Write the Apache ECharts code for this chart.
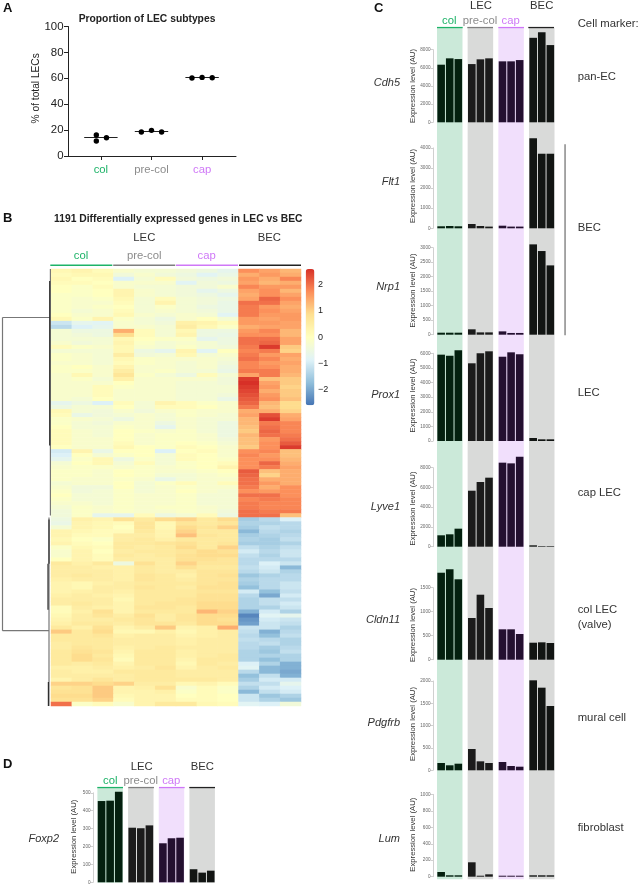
<!DOCTYPE html>
<html>
<head>
<meta charset="utf-8">
<title>LEC subtypes</title>
<script src="https://cdn.jsdelivr.net/npm/echarts@6/dist/echarts.min.js"></script>
<style>
    body { margin: 0; background: #fff; }
    #chart { width: 641px; height: 886px; }
</style>
</head>
<body>
<div id="chart"></div>
<script>
// panel A
const subtypes = ['col', 'pre-col', 'cap'];
const subtypeDots = [
    [[0.91, 16.2], [0.91, 11.6], [1.11, 14.1]],
    [[1.8, 18.5], [2, 19.8], [2.2, 18.5]],
    [[2.8, 60.2], [3, 60.7], [3.2, 60.4]],
];
const subtypeMedians = [14.3, 18.9, 60.6];

// panel C + D, 3 replicates each for col, pre-col, cap, BEC
const groups = ['col', 'pre-col', 'cap', 'BEC'];
const cdh5 = [6340, 7040, 6960, 6410, 6930, 7040, 6710, 6710, 6850, 9300, 9900, 8500];
const flt1 = [100, 115, 100, 215, 115, 85, 130, 85, 85, 4480, 3710, 3710];
const nrp1 = [69, 69, 69, 186, 80, 80, 115, 60, 60, 3115, 2885, 2390];
const prox1 = [5905, 5835, 6200, 5315, 6000, 6135, 5765, 6065, 5930, 205, 115, 115];
const lyve1 = [1155, 1255, 1825, 5670, 6550, 6990, 8510, 8440, 9115, 140, 60, 60];
const cldn11 = [1812, 1883, 1675, 869, 1354, 1077, 633, 633, 535, 354, 362, 348];
const pdgfrb = [164, 112, 148, 477, 201, 164, 186, 96, 81, 2015, 1850, 1440];
const lum = [57, 17, 17, 175, 12, 29, 12, 12, 12, 17, 17, 17];
const foxp2 = [454, 456, 506, 305, 302, 318, 218, 246, 249, 73, 54, 65];

// panel B, z-scores x10: col x3, pre-col x3, cap x3, BEC x3
const heatUpper = [
    [2,3,1,-2,-3,-3,-4,-5,-7,17,15,13],
    [1,2,2,-4,-2,-4,-5,-8,-6,14,16,14],
    [2,0,1,-9,-3,1,-4,-5,-4,16,14,18],
    [1,1,0,-2,-2,-2,-8,-4,-5,15,13,14],
    [0,-1,1,-2,-3,-3,-4,-4,-2,18,16,16],
    [0,-1,0,3,-2,-3,-4,-7,-5,15,17,13],
    [-1,-1,0,3,-2,-3,-4,-5,-7,14,17,15],
    [-1,-2,-1,2,-3,1,-3,-4,-5,15,21,17],
    [-1,-2,-2,1,-3,3,-3,-4,-6,20,20,15],
    [-1,-2,-1,0,-3,-1,-3,-5,-6,19,16,14],
    [-1,-3,-2,1,-3,-2,-3,-4,-6,19,17,15],
    [0,-2,-2,2,-2,-3,-2,-3,-8,19,16,16],
    [2,-1,3,-1,-3,-5,-2,0,-3,16,15,16],
    [-11,-7,-8,-2,-3,-4,4,3,1,16,16,15],
    [-13,-9,-7,-2,-2,-3,5,2,-1,14,15,15],
    [-3,-5,-5,14,1,-3,2,-5,-5,16,18,13],
    [-3,-4,-5,9,1,-3,3,-5,-6,17,17,13],
    [-3,-3,-3,2,0,-1,-1,-7,-5,20,20,15],
    [-2,-4,-3,3,-1,-3,-2,-3,-5,20,21,15],
    [1,-1,-2,2,-2,-3,-1,-3,-4,19,25,11],
    [-3,-3,-3,2,-5,-7,3,-8,0,18,19,10],
    [-1,-2,-3,5,-4,-3,2,-3,-2,19,16,15],
    [-1,-2,-3,2,-1,-2,-2,-2,-3,20,18,14],
    [-2,-2,-3,1,-1,-2,-3,-2,-4,18,16,15],
    [-1,0,-2,3,-2,-2,-3,-2,-5,18,17,14],
    [-1,-1,-2,5,-2,-1,-3,-3,-6,19,19,14],
    [-2,2,-2,7,-1,-3,-5,1,-3,15,19,13],
    [-2,-1,-3,4,-2,-2,-2,-2,-4,25,12,11],
    [-2,-2,-2,0,-2,-2,-3,-3,-4,26,15,11],
    [-2,-2,1,-1,-2,-2,-3,-3,-3,25,16,10],
    [-2,-2,1,-2,-2,-2,-3,-3,-3,24,14,11],
    [-2,-2,1,-2,-2,-2,-3,-3,-4,23,16,11],
    [-2,-3,0,-2,-2,-2,-3,-3,-6,22,17,12],
    [-7,-5,-9,1,-3,3,1,-1,-2,21,13,9],
    [-5,-3,-3,0,-3,1,1,0,-2,19,12,9],
    [2,-3,-4,-2,-4,-2,-1,-2,-2,14,14,10],
    [1,-6,-4,-3,-2,-3,-1,-2,-3,15,23,14],
    [-1,-2,-3,-5,-2,-3,-2,-3,-3,13,25,15],
    [-1,-3,-4,-2,-2,-5,-2,-3,-5,13,19,18],
    [0,-3,-3,-1,-2,-7,-2,-3,-5,12,20,18],
    [1,-2,-3,0,-1,-2,-1,-3,-5,11,21,18],
    [1,-2,-3,0,-2,-1,-1,-2,-5,13,20,19],
    [1,-2,-2,0,-2,-1,-1,-2,-4,12,16,20],
    [1,-2,-2,1,-2,-1,0,-1,-3,12,17,22],
    [0,-2,-2,2,0,-1,1,0,-2,11,17,25],
    [-10,3,-6,0,0,-9,0,1,-2,17,18,12],
    [-9,0,-3,-1,0,-3,1,0,-2,18,16,12],
    [-7,-1,2,-5,-1,-3,1,0,-1,17,17,13],
    [-3,0,2,-3,1,-3,-1,0,1,17,21,14],
    [-2,-1,-1,-2,-1,-2,-1,0,3,17,19,15],
    [-1,-1,-2,0,-1,-2,-2,-1,0,22,12,14],
    [-1,-1,-2,0,-1,-3,-3,-2,-1,21,10,14],
    [-1,-2,-2,-1,-2,-6,-3,-2,-2,20,14,14],
    [-3,-2,-2,0,-3,-1,1,-2,1,20,16,14],
    [-2,-4,-4,0,-3,-2,-1,-2,-2,19,14,17],
    [-1,-4,-3,-1,-3,-2,0,-2,-3,17,16,17],
    [0,-3,-3,-1,-2,-2,-1,-3,-3,20,20,17],
    [-1,-3,-3,-1,-2,-2,-1,-3,-3,18,19,18],
    [-2,-2,-3,-1,-2,-2,-1,-3,-3,19,18,18],
    [-3,-1,-2,-1,-2,-1,-1,-2,-3,19,18,18],
    [-4,-1,-2,-1,-2,-2,-1,-2,-4,20,19,19],
    [-4,-1,-7,-7,1,-5,-3,1,-5,20,20,12],
];
const heatLower = [
    [-5,4,3,8,6,9,10,6,9,-15,-13,-9],
    [-6,3,2,1,7,2,7,6,7,-14,-14,-13],
    [-3,3,2,0,7,2,9,7,10,-15,-12,-13],
    [3,2,1,1,6,3,10,6,6,-18,-13,-14],
    [3,1,1,5,5,3,12,7,6,-15,-14,-13],
    [2,0,-1,5,6,4,6,6,6,-14,-15,-12],
    [3,1,0,6,6,7,8,6,7,-15,-15,-14],
    [-1,2,1,6,5,6,9,6,10,-12,-14,-12],
    [-2,3,0,5,6,6,7,9,8,-10,-13,-11],
    [-2,3,1,6,5,6,8,9,9,-12,-14,-11],
    [0,3,1,5,5,5,8,8,7,-13,-13,-13],
    [6,4,6,-5,8,5,10,7,7,-13,-9,-11],
    [5,5,4,4,6,5,8,6,6,-12,-10,-18],
    [5,5,5,4,6,5,5,7,7,-13,-11,-14],
    [5,6,5,4,7,6,4,7,8,-16,-14,-13],
    [4,5,5,4,7,6,5,7,7,-14,-13,-13],
    [3,2,4,5,6,6,6,7,8,-15,-13,-11],
    [3,2,5,5,7,6,5,8,8,-17,-13,-11],
    [3,4,5,4,6,6,6,7,7,-10,-17,-12],
    [4,5,4,3,6,6,6,8,8,-13,-20,-10],
    [5,5,5,2,6,6,7,8,8,-14,-12,-12],
    [5,6,5,3,6,7,7,9,9,-14,-12,-10],
    [1,5,4,3,7,7,6,9,9,-14,-14,-11],
    [1,4,8,3,6,6,6,13,10,-19,-10,-14],
    [2,5,7,5,8,5,7,9,9,-24,-8,-7],
    [3,5,5,6,7,5,7,9,8,-22,-10,-11],
    [4,6,6,5,7,7,6,9,9,-21,-11,-12],
    [6,4,8,3,5,11,3,4,14,-11,-11,-14],
    [11,6,9,2,2,4,2,4,5,-12,-19,-13],
    [6,6,7,4,5,5,3,4,5,-13,-17,-12],
    [6,6,6,5,5,5,4,5,5,-12,-13,-14],
    [5,6,6,5,5,5,4,5,5,-13,-12,-14],
    [5,7,6,4,5,6,5,5,5,-13,-15,-13],
    [6,8,7,3,6,6,4,5,5,-14,-16,-12],
    [6,9,6,2,6,6,4,5,6,-14,-14,-14],
    [6,9,7,1,6,6,3,6,6,-14,-17,-14],
    [6,5,6,3,6,6,2,6,5,-9,-14,-19],
    [4,4,5,4,5,7,3,5,6,-8,-18,-19],
    [5,4,4,6,6,6,5,5,5,-13,-18,-20],
    [5,5,5,5,6,6,5,5,5,-17,-12,-19],
    [3,5,7,5,6,6,6,6,5,-15,-10,-10],
    [10,10,9,10,5,5,2,3,1,-12,-12,-7],
    [7,8,11,3,4,8,-2,1,-1,-14,-10,-9],
    [8,8,11,3,3,4,-1,1,-1,-18,-12,-10],
    [9,9,11,2,3,3,0,1,0,-11,-16,-14],
    [8,8,10,1,3,3,1,1,0,-11,-14,-16],
    [20,-1,1,-2,3,6,6,2,1,-8,-9,-4],
];
const heatTicks = [-2, -1, 0, 1, 2];

// dendrogram segments: [height, row, height, row]
const treeMain = [
    [48.5, 12.1, 48.5, 90.2],
    [48.5, 12.1, 1, 12.1],
    [48.5, 90.2, 2.5, 90.2],
    [0.6, 0, 0.6, 61.5],
    [2, 62, 2, 109],
];
const treeDark = [
    [1.3, 3, 1.3, 44],
    [2, 62.5, 2, 73.5],
    [3, 73.5, 3, 85],
    [2.6, 103, 2.6, 109],
];

// layout, px
const FONT = '"Liberation Sans", Arial, sans-serif';
const GREEN = '#1db368';
const GREY = '#8c8c8c';
const VIOLET = '#cf78f7';
const INK = '#333333';
const lineColors = [GREEN, '#7f7f7f', VIOLET, '#222222'];
const bandColors = ['#cbe9d9', '#d9dad9', '#f1dffc', '#d9dad9'];
const barColors = ['#04200f', '#1b1b1b', '#241030', '#121513'];
const heatColors = ['#4575b4', '#91bfdb', '#e0f3f8', '#ffffbf', '#fee090', '#fc8d59', '#d73027'];

// y0 = zero line, pxPer = pixels per unit
const panels = [
    { gene: 'Cdh5', values: cdh5, y0: 122.3, pxPer: 0.009085, top: 10000, step: 2000, tickMax: 8000, labelY: 82.7, nameMid: 86 },
    { gene: 'Flt1', values: flt1, y0: 228.3, pxPer: 0.0201, top: 4600, step: 1000, tickMax: 4000, labelY: 181.7, nameMid: 186 },
    { gene: 'Nrp1', values: nrp1, y0: 334.7, pxPer: 0.029, top: 3200, step: 500, tickMax: 3000, labelY: 286.7, nameMid: 290.5 },
    { gene: 'Prox1', values: prox1, y0: 441, pxPer: 0.01462, top: 6500, step: 1000, tickMax: 6000, labelY: 395, nameMid: 395.5 },
    { gene: 'Lyve1', values: lyve1, y0: 546.7, pxPer: 0.009875, top: 9500, step: 2000, tickMax: 8000, labelY: 507.3, nameMid: 508.5 },
    { gene: 'Cldn11', values: cldn11, y0: 659.7, pxPer: 0.048, top: 2000, step: 500, tickMax: 1500, labelY: 620, nameMid: 625 },
    { gene: 'Pdgfrb', values: pdgfrb, y0: 770.3, pxPer: 0.04466, top: 2100, step: 500, tickMax: 2000, labelY: 723.3, nameMid: 724 },
    { gene: 'Lum', values: lum, y0: 876.7, pxPer: 0.08235, top: 1000, step: 200, tickMax: 1000, labelY: 839.3, nameMid: 834.7 },
];
const foxp2Panel = { gene: 'Foxp2', values: foxp2, y0: 882.3, pxPer: 0.179, top: 530, step: 100, tickMax: 500, labelY: 839.3, nameMid: 836.7 };

const grid = [];
const xAxis = [];
const yAxis = [];
const series = [];
const graphic = [];

function addCoord(g, x, y) {
    grid.push(Object.assign({ containLabel: false }, g));
    xAxis.push(Object.assign({ gridIndex: grid.length - 1 }, x));
    yAxis.push(Object.assign({ gridIndex: grid.length - 1 }, y));
    return grid.length - 1;
}

function text(str, x, y, opts) {
    graphic.push({
        type: 'text', x: x, y: y, z: 20, silent: true,
        rotation: opts && opts.rotate ? Math.PI / 2 : 0,
        style: Object.assign({
            text: str, fontFamily: FONT, fontSize: 11.3, fill: INK,
            align: 'center', verticalAlign: 'middle',
        }, opts),
    });
}

function rule(x, y, width, height, fill) {
    graphic.push({
        type: 'rect', z: 20, silent: true,
        shape: { x: x, y: y, width: width, height: height },
        style: { fill: fill },
    });
}

function segments(list) {
    const out = [];
    list.forEach(s => {
        out.push([s[0], s[1]], [s[2], s[3]], ['-', '-']);
    });
    return out;
}

// panel A
const idxA = addCoord(
    { left: 68, top: 26.5, width: 168, height: 129.5 },
    {
        type: 'value', min: 0.35, max: 3.67, splitLine: { show: false },
        axisLine: { lineStyle: { color: '#222', width: 1 } },
        axisTick: { length: 4, lineStyle: { color: '#222' }, customValues: [1, 2, 3] },
        axisLabel: {
            customValues: [1, 2, 3], margin: 8, fontFamily: FONT, fontSize: 11.3,
            formatter: v => subtypes[v - 1],
            color: v => [GREEN, GREY, VIOLET][v - 1],
        },
    },
    {
        type: 'value', min: 0, max: 100, interval: 20, splitLine: { show: false },
        axisLine: { show: true, lineStyle: { color: '#222', width: 1 } },
        axisTick: { show: true, length: 4, lineStyle: { color: '#222' } },
        axisLabel: { margin: 4.5, fontFamily: FONT, fontSize: 11.4, color: '#222' },
    }
);
subtypeMedians.forEach((m, i) => {
    series.push({
        type: 'line', xAxisIndex: idxA, yAxisIndex: idxA, symbol: 'none', z: 3,
        lineStyle: { color: '#222', width: 1.2 },
        data: [[i + 1 - 0.33, m], [i + 1 + 0.33, m]],
    });
    series.push({
        type: 'scatter', xAxisIndex: idxA, yAxisIndex: idxA, symbolSize: 5.4, z: 4,
        itemStyle: { color: '#000', opacity: 1 },
        data: subtypeDots[i],
    });
});

// panel B heatmap
const heatRows = heatUpper.concat(heatLower);
const heatData = [];
heatRows.forEach((row, r) => row.forEach((v, c) => heatData.push([c, r, v / 10])));
const idxHeat = addCoord(
    { left: 51, top: 269, width: 250, height: 437 },
    { type: 'category', show: false, data: heatRows[0].map((_, i) => i) },
    { type: 'category', show: false, inverse: true, data: heatRows.map((_, i) => i) }
);
const heatSeriesIndex = series.length;
series.push({
    type: 'heatmap', xAxisIndex: idxHeat, yAxisIndex: idxHeat, data: heatData,
    progressive: 0, itemStyle: { borderWidth: 0 },
});

// colour bar ticks
const idxBar = addCoord(
    { left: 305.7, top: 269, width: 8.7, height: 136.3 },
    { type: 'value', show: false, min: 0, max: 1 },
    {
        type: 'value', position: 'right', min: -2.6, max: 2.6, splitLine: { show: false },
        axisLine: { show: false }, axisTick: { show: false },
        axisLabel: {
            customValues: heatTicks, margin: 3.5, align: 'left', fontFamily: FONT, fontSize: 9, color: '#222',
            formatter: v => String(v).replace('-', '\u2212'),
        },
    }
);

// dendrogram
const idxTree = addCoord(
    { left: 1, top: 269, width: 50, height: 437 },
    { type: 'value', show: false, inverse: true, min: 0, max: 50 },
    { type: 'value', show: false, inverse: true, min: 0, max: 109 }
);
series.push({
    type: 'line', xAxisIndex: idxTree, yAxisIndex: idxTree, symbol: 'none', connectNulls: false,
    lineStyle: { color: '#777777', width: 1.2 }, data: segments(treeMain),
});
series.push({
    type: 'line', xAxisIndex: idxTree, yAxisIndex: idxTree, symbol: 'none', connectNulls: false,
    lineStyle: { color: '#2e2e2e', width: 1.2 }, data: segments(treeDark),
});

// coloured bands behind the bars
function addBands(left, top, height) {
    const idx = addCoord(
        { left: left, top: top, width: 122.7, height: height },
        { type: 'category', show: false, data: groups },
        { type: 'value', show: false, min: 0, max: 1 }
    );
    series.push({
        type: 'bar', xAxisIndex: idx, yAxisIndex: idx, barWidth: 25.5, z: 1,
        itemStyle: { color: p => bandColors[p.dataIndex] },
        data: groups.map(() => 1),
    });
}

// one gene: bars grid plus a separate grid for the short tick axis
function addGene(p, barLeft, axisLeft, nameX, labelRight) {
    const idx = addCoord(
        { left: barLeft, top: p.y0 - p.top * p.pxPer, width: 122.7, height: p.top * p.pxPer },
        { type: 'category', show: false, data: groups },
        { type: 'value', show: false, min: 0, max: p.top }
    );
    [0, 1, 2].forEach(rep => {
        series.push({
            type: 'bar', xAxisIndex: idx, yAxisIndex: idx, barWidth: 7.6, barGap: '13%', z: 3,
            itemStyle: { color: it => barColors[it.dataIndex] },
            data: groups.map((_, g) => p.values[g * 3 + rep]),
        });
    });
    addCoord(
        { left: axisLeft, top: p.y0 - p.tickMax * p.pxPer, width: 1, height: p.tickMax * p.pxPer },
        { type: 'value', show: false, min: 0, max: 1 },
        {
            type: 'value', min: 0, max: p.tickMax, interval: p.step, splitLine: { show: false },
            axisLine: { show: true, lineStyle: { color: '#c4c4c4', width: 0.8 } },
            axisTick: { show: true, length: 2.5, lineStyle: { color: '#c4c4c4', width: 0.8 } },
            axisLabel: { margin: 2.5, fontFamily: FONT, fontSize: 4.6, color: '#666', formatter: v => String(v) },
        }
    );
    text(p.gene, labelRight, p.labelY, { align: 'right', fontStyle: 'italic', fontSize: 11 });
    text('Expression level (AU)', nameX, p.nameMid, { rotate: true, fontSize: 7.7 });
}

addBands(434.4, 27.7, 851.6);
panels.forEach(p => addGene(p, 434.4, 433, 412.7, 400));
addBands(94.8, 787.3, 95.4);
addGene(foxp2Panel, 94.8, 93, 74, 59);

// panel letters and titles
text('A', 3, 8, { align: 'left', fontWeight: 'bold', fontSize: 13, fill: '#111' });
text('B', 3, 218, { align: 'left', fontWeight: 'bold', fontSize: 13, fill: '#111' });
text('C', 374, 8, { align: 'left', fontWeight: 'bold', fontSize: 13, fill: '#111' });
text('D', 3, 764.5, { align: 'left', fontWeight: 'bold', fontSize: 13, fill: '#111' });
text('Proportion of LEC subtypes', 147, 19.3, { fontWeight: 'bold', fontSize: 10.3, fill: '#222' });
text('1191 Differentially expressed genes in LEC vs BEC', 178.3, 219.5, { fontWeight: 'bold', fontSize: 10.3, fill: '#222' });
text('% of total LECs', 36, 88.3, { rotate: true, fontSize: 10.2, fill: '#222' });

// group headers: panel B, C, D
function headers(lec, bec, topY, subY, subX, lineY, lineX, lineW) {
    text('LEC', lec, topY);
    text('BEC', bec, topY);
    ['col', 'pre-col', 'cap'].forEach((name, i) => {
        text(name, subX[i], subY, { fill: [GREEN, GREY, VIOLET][i] });
    });
    lineX.forEach((x, i) => rule(x, lineY, lineW, 1.3, lineColors[i]));
}
headers(144.3, 269.3, 238.3, 256, [81, 144.3, 206.7], 264.6, [50.3, 113.2, 176, 239], 62);
headers(481, 541.7, 6.3, 21, [449.3, 480, 510.7], 26.9, [437, 467.3, 498.3, 528.3], 25.7);
headers(141.7, 202.3, 766.7, 781.3, [110.3, 140.7, 171.3], 786.9, [97.3, 128.3, 159, 189.3], 25.7);

// colour bar caption column and marker names
text('Cell marker:', 577.7, 23.7, { align: 'left' });
text('pan-EC', 577.7, 77, { align: 'left' });
text('BEC', 577.7, 227.7, { align: 'left' });
text('LEC', 577.7, 392.7, { align: 'left' });
text('cap LEC', 577.7, 493.3, { align: 'left' });
text('col LEC', 577.7, 610.3, { align: 'left' });
text('(valve)', 577.7, 624.7, { align: 'left' });
text('mural cell', 577.7, 718, { align: 'left' });
text('fibroblast', 577.7, 828.3, { align: 'left' });
rule(564.4, 144.3, 1.3, 191, '#777777');

const chart = echarts.init(document.getElementById('chart'), null, { renderer: 'canvas' });
chart.setOption({
    animation: false,
    backgroundColor: '#ffffff',
    textStyle: { fontFamily: FONT },
    visualMap: {
        type: 'continuous', seriesIndex: heatSeriesIndex, min: -2.6, max: 2.6,
        left: 305.7, top: 269, itemWidth: 8.7, itemHeight: 136.3, padding: 0,
        calculable: false, showLabel: false, text: null, hoverLink: false,
        inRange: { color: heatColors },
    },
    grid: grid,
    xAxis: xAxis,
    yAxis: yAxis,
    series: series,
    graphic: graphic,
});
</script>
</body>
</html>
